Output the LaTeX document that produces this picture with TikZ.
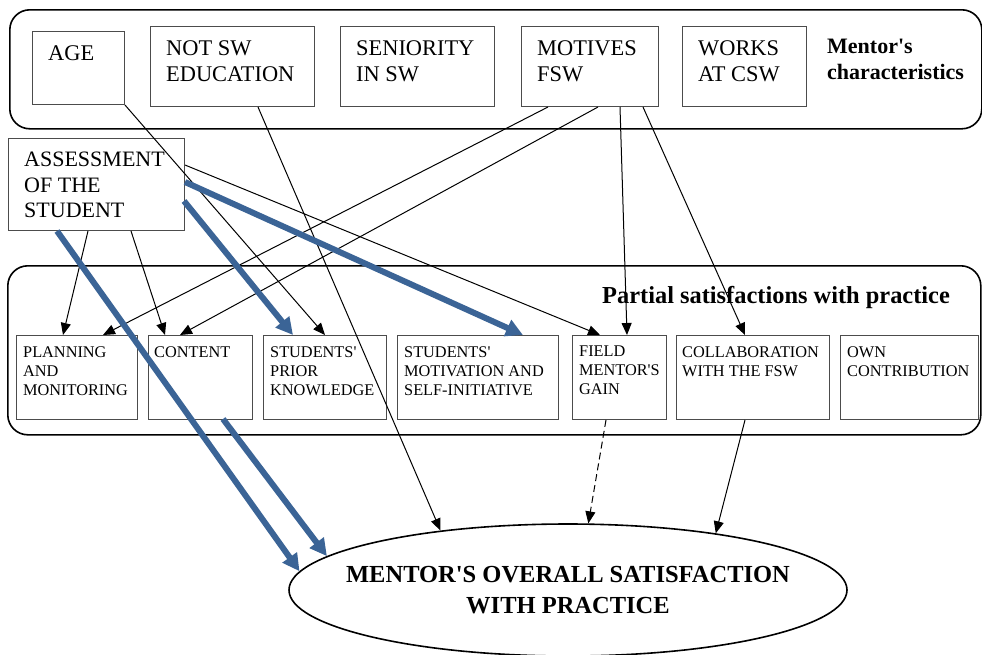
\documentclass[tikz,border=0pt]{standalone}
\usepackage{fontspec}
\setmainfont{Liberation Serif}[Ligatures=TeXOff]
\usetikzlibrary{arrows.meta,calc,shapes.geometric}
\definecolor{thickblue}{RGB}{59,100,150}

\begin{document}
\begin{tikzpicture}[x=1pt,y=-1pt,
    groupbox/.style={draw, line width=1.6pt, rounded corners=20pt, anchor=north west, inner sep=0},
    topbox/.style={draw=black!70, line width=1pt, anchor=north west, minimum height=80, inner sep=0},
    lowbox/.style={draw=black!70, line width=1pt, anchor=north west, minimum height=84, inner sep=0},
    toptext/.style={anchor=north west, inner sep=0, align=left, font=\fontsize{22.4}{26}\selectfont},
    lowtext/.style={anchor=north west, inner sep=0, align=left, font=\fontsize{16.3}{19}\selectfont},
    link/.style={line width=1pt, -{Triangle[length=12pt,width=10pt]}},
    thicklink/.style={draw=thickblue, line width=6pt, -{Triangle[length=17pt,width=17pt]}}]
    \useasboundingbox (0,0) rectangle (982,654);

    % groups
    \node[groupbox, minimum width=972, minimum height=119] (chars) at (9,9) {};
    \node[groupbox, minimum width=973, minimum height=169] (partial) at (7,265) {};
    \node[anchor=north west, inner sep=0, align=left, font=\bfseries\fontsize{22}{26}\selectfont] (chars-t) at (827,39) {Mentor's\\characteristics};
    \node[anchor=base west, inner sep=0, font=\bfseries\fontsize{24.4}{28}\selectfont] (partial-t) at (602,303) {Partial satisfactions with practice};

    % mentor's characteristics
    \node[topbox, minimum width=92, minimum height=73] (age) at (32,31) {};
    \node[topbox, minimum width=164] (notsw) at (150,26) {};
    \node[topbox, minimum width=154] (senior) at (340,26) {};
    \node[topbox, minimum width=137] (motives) at (521,26) {};
    \node[topbox, minimum width=124] (works) at (682,26) {};
    \node[toptext] (age-t) at ($(age.north west)+(16,14)$) {AGE};
    \node[toptext] (notsw-t) at ($(notsw.north west)+(16,14)$) {NOT SW\\EDUCATION};
    \node[toptext] (senior-t) at ($(senior.north west)+(16,14)$) {SENIORITY\\IN SW};
    \node[toptext] (motives-t) at ($(motives.north west)+(16,14)$) {MOTIVES\\FSW};
    \node[toptext] (works-t) at ($(works.north west)+(16,14)$) {WORKS\\AT CSW};

    \node[topbox, minimum width=176, minimum height=92] (assess) at (8,138) {};
    \node[toptext, font=\fontsize{22}{25.5}\selectfont] (assess-t) at ($(assess.north west)+(16,14)$) {ASSESSMENT\\OF THE\\STUDENT};

    % partial satisfactions
    \node[lowbox, minimum width=121] (plan) at (16,335) {};
    \node[lowbox, minimum width=104] (content) at (148,335) {};
    \node[lowbox, minimum width=123] (prior) at (263,335) {};
    \node[lowbox, minimum width=161] (motiv) at (397,335) {};
    \node[lowbox, minimum width=94] (gain) at (572,335) {};
    \node[lowbox, minimum width=153] (collab) at (676,335) {};
    \node[lowbox, minimum width=138] (own) at (840,335) {};
    \node[lowtext] (plan-t) at ($(plan.north west)+(7,11)$) {PLANNING\\AND\\MONITORING};
    \node[lowtext] (content-t) at ($(content.north west)+(6,11)$) {CONTENT};
    \node[lowtext] (prior-t) at ($(prior.north west)+(7,11)$) {STUDENTS'\\PRIOR\\KNOWLEDGE};
    \node[lowtext] (motiv-t) at ($(motiv.north west)+(7,11)$) {STUDENTS'\\MOTIVATION AND\\SELF-INITIATIVE};
    \node[lowtext] (gain-t) at ($(gain.north west)+(7,11)$) {FIELD\\MENTOR'S\\GAIN};
    \node[lowtext] (collab-t) at ($(collab.north west)+(6,11)$) {COLLABORATION\\WITH THE FSW};
    \node[lowtext] (own-t) at ($(own.north west)+(7,11)$) {OWN\\CONTRIBUTION};

    % overall satisfaction
    \node[draw, ellipse, line width=1.6pt, minimum width=558, minimum height=132, inner sep=0] (overall) at (568,590) {};
    \node[align=center, inner sep=0, font=\bfseries\fontsize{24.5}{31}\selectfont] (overall-t) at (overall.center) {MENTOR'S OVERALL SATISFACTION\\WITH PRACTICE};

    % connectors
    \draw[link] (age.south east) -- ($(prior.north west)+(62,0)$);
    \draw[link] ($(notsw.south west)+(108,0)$) -- (overall.155);
    \draw[link] ($(motives.south west)+(27,0)$) -- ($(plan.north west)+(87,0)$);
    \draw[link] ($(motives.south west)+(77,0)$) -- ($(content.north west)+(32,0)$);
    \draw[link] ($(motives.south west)+(99,0)$) -- ($(gain.north west)+(55,0)$);
    \draw[link] ($(motives.south west)+(122,0)$) -- ($(collab.north west)+(69,0)$);
    \draw[link] ($(assess.north east)+(0,27)$) -- ($(gain.north west)+(28,0)$);
    \draw[link] ($(assess.south west)+(80,0)$) -- ($(plan.north west)+(47,0)$);
    \draw[link] ($(assess.south west)+(123,0)$) -- ($(content.north west)+(17,0)$);
    \draw[link, dash pattern=on 7pt off 4pt] ($(gain.south west)+(34,0)$) -- (overall.73);
    \draw[link] ($(collab.south west)+(69,0)$) -- (overall.21);
    \draw[thicklink] ($(assess.north east)+(0,44)$) -- ($(motiv.north west)+(126,0)$);
    \draw[thicklink] ($(assess.north east)+(-1,63)$) -- ($(prior.north west)+(30,0)$);
    \draw[thicklink] ($(assess.south west)+(49,0)$) -- (overall.176);
    \draw[thicklink] ($(content.south west)+(75,-1)$) -- (overall.172);
\end{tikzpicture}
\end{document}
